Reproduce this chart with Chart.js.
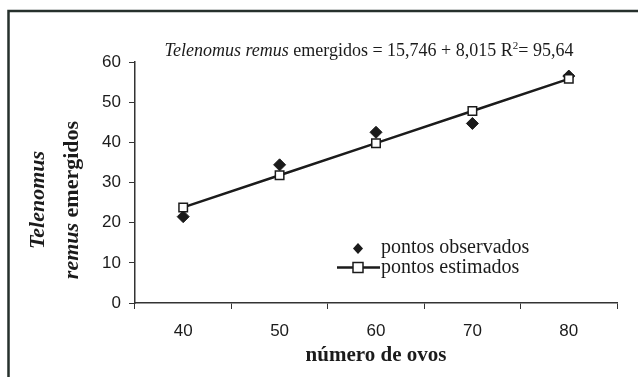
<!DOCTYPE html>
<html>
<head>
<meta charset="utf-8">
<script src="https://cdn.jsdelivr.net/npm/chart.js@4.4.1/dist/chart.umd.min.js"></script>
<style>
  html, body { margin: 0; padding: 0; background: #fff; }
</style>
</head>
<body>
<canvas id="grafico" width="638" height="377"></canvas>
<script>
// dados
const numeroOvos = ["40", "50", "60", "70", "80"];
const observados = [21.5, 34.4, 42.5, 44.7, 56.5];
const estimados = [23.8, 31.8, 39.8, 47.8, 55.8];
const yMin = 0, yMax = 60, yPasso = 10;

const serif = '"Liberation Serif", "Times New Roman", serif';
const sans = '"Liberation Sans", Arial, sans-serif';
const tinta = '#1b1b1b';

// escreve trechos de texto com estilos diferentes numa linha
function escreverTrechos(ctx, trechos, x, y, alinhar) {
    let total = 0;
    trechos.forEach(t => { ctx.font = t.font; total += ctx.measureText(t.text).width; });
    let cx = alinhar === 'center' ? x - total / 2 : x;
    ctx.textAlign = 'left';
    trechos.forEach(t => {
        ctx.font = t.font;
        ctx.fillText(t.text, cx, y + (t.dy || 0));
        cx += ctx.measureText(t.text).width;
    });
}

const extras = {
    id: 'extras',
    afterDraw(chart) {
        const ctx = chart.ctx;
        ctx.save();
        ctx.fillStyle = tinta;
        ctx.strokeStyle = '#26302c';

        // moldura
        ctx.lineWidth = 2.5;
        ctx.strokeRect(8.5, 11, 700, 500);

        // equação
        ctx.textBaseline = 'alphabetic';
        escreverTrechos(ctx, [
            { text: 'Telenomus remus', font: 'italic 18px ' + serif },
            { text: ' emergidos = 15,746 + 8,015 R', font: '18px ' + serif },
            { text: '2', font: '11px ' + serif, dy: -7 },
            { text: '= 95,64', font: '18px ' + serif }
        ], 369, 56, 'center');

        // título do eixo x
        ctx.font = 'bold 21px ' + serif;
        ctx.textAlign = 'center';
        ctx.textBaseline = 'middle';
        ctx.fillText('número de ovos', 376, 356);

        // título do eixo y (duas linhas, girado)
        ctx.save();
        ctx.translate(0, 200);
        ctx.rotate(-Math.PI / 2);
        ctx.textBaseline = 'middle';
        escreverTrechos(ctx, [
            { text: 'Telenomus', font: 'italic bold 22px ' + serif }
        ], 0, 38, 'center');
        escreverTrechos(ctx, [
            { text: 'remus', font: 'italic bold 22px ' + serif },
            { text: ' emergidos', font: 'bold 22px ' + serif }
        ], 0, 72, 'center');
        ctx.restore();

        // legenda
        const d0 = chart.data.datasets[1];
        const d1 = chart.data.datasets[0];
        ctx.textBaseline = 'middle';
        ctx.font = '20px ' + serif;
        ctx.textAlign = 'left';
        // losango
        ctx.beginPath();
        ctx.moveTo(358, 243); ctx.lineTo(363, 248.5); ctx.lineTo(358, 254); ctx.lineTo(353, 248.5);
        ctx.closePath();
        ctx.fill();
        ctx.fillText(d0.label, 381, 248);
        // linha com quadrado
        ctx.lineWidth = 2.5;
        ctx.strokeStyle = tinta;
        ctx.beginPath(); ctx.moveTo(337, 267.5); ctx.lineTo(380, 267.5); ctx.stroke();
        ctx.fillStyle = '#fff';
        ctx.fillRect(353, 262.5, 10, 10);
        ctx.lineWidth = 1.5;
        ctx.strokeRect(353, 262.5, 10, 10);
        ctx.fillStyle = tinta;
        ctx.fillText(d1.label, 381, 268);
        ctx.restore();
    }
};

new Chart(document.getElementById('grafico'), {
    type: 'line',
    data: {
        labels: numeroOvos,
        datasets: [
            {
                label: 'pontos estimados',
                data: estimados,
                borderColor: tinta,
                borderWidth: 2.5,
                pointStyle: 'rect',
                pointRadius: 6,
                pointBackgroundColor: '#fff',
                pointBorderColor: tinta,
                pointBorderWidth: 1.5,
                tension: 0
            },
            {
                label: 'pontos observados',
                data: observados,
                showLine: false,
                pointStyle: 'rectRot',
                pointRadius: 6,
                pointBackgroundColor: tinta,
                pointBorderColor: tinta,
                pointBorderWidth: 1
            }
        ]
    },
    options: {
        responsive: false,
        animation: false,
        layout: { padding: { left: 0, top: 62, right: 21, bottom: 0 } },
        plugins: {
            legend: { display: false },
            tooltip: { enabled: false }
        },
        scales: {
            x: {
                type: 'category',
                offset: true,
                grid: { offset: true, drawOnChartArea: false, tickLength: 6, color: '#333', lineWidth: 1 },
                border: { color: '#333', width: 1.5 },
                ticks: { font: { family: sans, size: 17 }, color: tinta, padding: 12, maxRotation: 0 },
                afterFit(scale) { scale.height = 74; }
            },
            y: {
                min: yMin,
                max: yMax,
                grid: { drawOnChartArea: false, tickLength: 6, color: '#333', lineWidth: 1 },
                border: { color: '#333', width: 1.5 },
                ticks: { stepSize: yPasso, font: { family: sans, size: 17 }, color: tinta, padding: 8 },
                afterFit(scale) { scale.width = 135; }
            }
        }
    },
    plugins: [extras]
});
</script>
</body>
</html>
